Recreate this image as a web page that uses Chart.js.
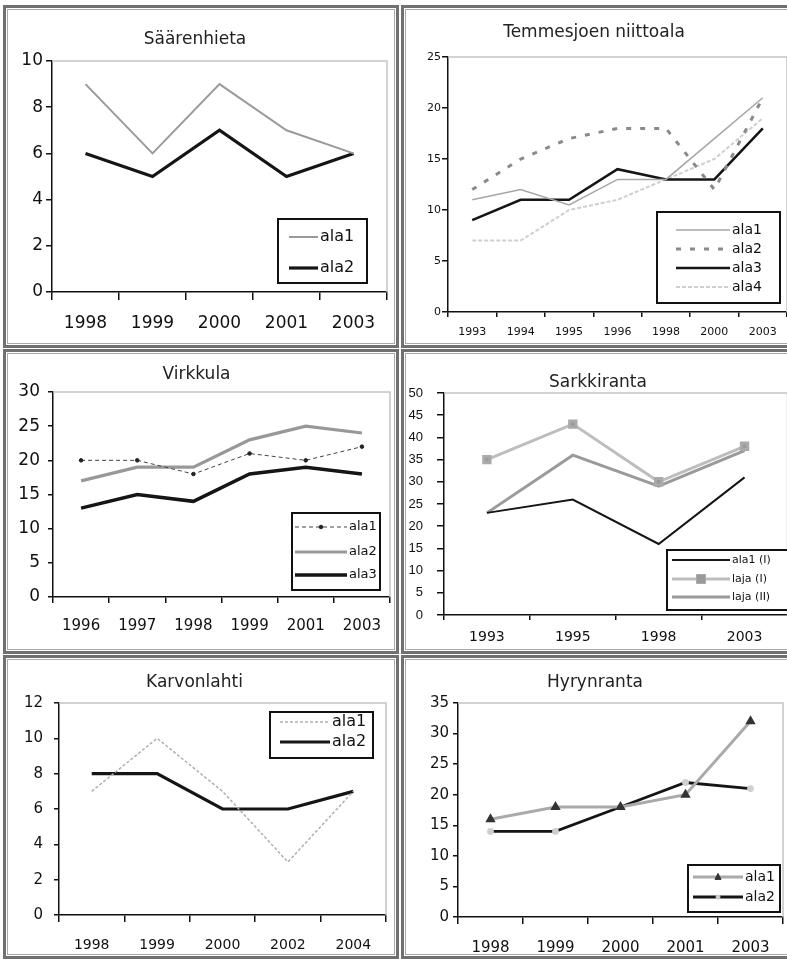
<!DOCTYPE html>
<html>
<head>
<meta charset="utf-8">
<script src="https://cdn.jsdelivr.net/npm/chart.js@4/dist/chart.umd.min.js"></script>
<style>
  html, body { margin:0; padding:0; background:#fff; }
  #page { position:relative; width:787px; height:962px; overflow:hidden; background:#fff; }
  .panel { position:absolute; box-sizing:border-box; border:3px solid #707070;
           box-shadow: inset 0 0 0 1px #fff, inset 0 0 0 2px #a8a8a8; background:#fff; }
  canvas { position:absolute; z-index:2; }
</style>
</head>
<body>
<div id="page">
  <div class="panel" style="left:3px;top:5px;width:396px;height:343px"></div>
  <div class="panel" style="left:401px;top:5px;width:395px;height:343px"></div>
  <div class="panel" style="left:3px;top:349px;width:396px;height:305px"></div>
  <div class="panel" style="left:401px;top:349px;width:395px;height:305px"></div>
  <div class="panel" style="left:3px;top:655px;width:396px;height:304px"></div>
  <div class="panel" style="left:401px;top:655px;width:395px;height:304px"></div>

  <canvas id="c1" width="396" height="342" style="left:3px;top:5px"></canvas>
  <canvas id="c2" width="386" height="342" style="left:401px;top:5px"></canvas>
  <canvas id="c3" width="396" height="304" style="left:3px;top:349px"></canvas>
  <canvas id="c4" width="394" height="304" style="left:401px;top:349px"></canvas>
  <canvas id="c5" width="396" height="303" style="left:3px;top:655px"></canvas>
  <canvas id="c6" width="388" height="303" style="left:401px;top:655px"></canvas>
</div>
<script>
// ---------------- DATA ----------------
const saarenYears = ['1998','1999','2000','2001','2003'];
const saarenAla1  = [9, 6, 9, 7, 6];
const saarenAla2  = [6, 5, 7, 5, 6];

const temmesYears = ['1993','1994','1995','1996','1998','2000','2003'];
const temmesAla1  = [11, 12, 10.5, 13, 13, 17, 21];
const temmesAla2  = [12, 15, 17, 18, 18, 12, 21];
const temmesAla3  = [9, 11, 11, 14, 13, 13, 18];
const temmesAla4  = [7, 7, 10, 11, 13, 15, 19];

const virkYears = ['1996','1997','1998','1999','2001','2003'];
const virkAla1  = [20, 20, 18, 21, 20, 22];
const virkAla2  = [17, 19, 19, 23, 25, 24];
const virkAla3  = [13, 15, 14, 18, 19, 18];

const sarkYears  = ['1993','1995','1998','2003'];
const sarkAla1   = [23, 26, 16, 31];
const sarkLajaI  = [35, 43, 30, 38];
const sarkLajaII = [23, 36, 29, 37];

const karvYears = ['1998','1999','2000','2002','2004'];
const karvAla1  = [7, 10, 7, 3, 7];
const karvAla2  = [8, 8, 6, 6, 7];

const hyrYears = ['1998','1999','2000','2001','2003'];
const hyrAla1  = [16, 18, 18, 20, 32];
const hyrAla2  = [14, 14, 18, 22, 21];

// ---------------- HELPERS ----------------
const FONT = 'DejaVu Sans';
const legendCfg = {};

function drawMarker(ctx, style, x, y, r, fill, stroke) {
  ctx.save();
  ctx.setLineDash([]);
  ctx.fillStyle = fill || '#000';
  ctx.strokeStyle = stroke || fill || '#000';
  ctx.lineWidth = 1;
  ctx.beginPath();
  if (style === 'rect') {
    ctx.rect(x - r, y - r, 2 * r, 2 * r);
  } else if (style === 'triangle') {
    ctx.moveTo(x, y - r * 1.2);
    ctx.lineTo(x + r, y + r * 0.8);
    ctx.lineTo(x - r, y + r * 0.8);
    ctx.closePath();
  } else {
    ctx.arc(x, y, r, 0, Math.PI * 2);
  }
  ctx.fill();
  ctx.stroke();
  ctx.restore();
}

const plotFrame = {
  id: 'plotFrame',
  beforeDatasetsDraw(chart) {
    const a = chart.chartArea, ctx = chart.ctx;
    ctx.save();
    ctx.strokeStyle = '#c4c4c4';
    ctx.lineWidth = 1.5;
    ctx.beginPath();
    ctx.moveTo(a.left, a.top);
    ctx.lineTo(a.right, a.top);
    ctx.lineTo(a.right, a.bottom);
    ctx.stroke();
    ctx.restore();
  }
};

const insetLegend = {
  id: 'insetLegend',
  afterDatasetsDraw(chart) {
    const o = legendCfg[chart.canvas.id];
    if (!o) return;
    const ctx = chart.ctx;
    const [x0, y0, x1, y1] = o.box;
    ctx.save();
    ctx.fillStyle = '#fff';
    ctx.fillRect(x0, y0, x1 - x0, y1 - y0);
    ctx.lineWidth = 2;
    ctx.strokeStyle = '#111';
    ctx.setLineDash([]);
    ctx.strokeRect(x0, y0, x1 - x0, y1 - y0);
    chart.data.datasets.forEach((ds, i) => {
      const y = o.rows[i];
      ctx.strokeStyle = ds.borderColor;
      ctx.lineWidth = ds.borderWidth;
      ctx.setLineDash(ds.borderDash || []);
      ctx.beginPath();
      ctx.moveTo(o.sample[0], y);
      ctx.lineTo(o.sample[1], y);
      ctx.stroke();
      ctx.setLineDash([]);
      if (ds.pointRadius > 0) {
        drawMarker(ctx, ds.pointStyle, (o.sample[0] + o.sample[1]) / 2, y,
                   ds.pointRadius, ds.pointBackgroundColor, ds.pointBorderColor);
      }
      ctx.fillStyle = '#111';
      ctx.font = o.font + 'px "' + FONT + '"';
      ctx.textBaseline = 'middle';
      ctx.textAlign = 'left';
      ctx.fillText(ds.label, o.textX, y);
    });
    ctx.restore();
  }
};

function line(label, data, color, width, extra) {
  return Object.assign({
    label, data,
    borderColor: color, backgroundColor: color,
    borderWidth: width, tension: 0, fill: false,
    pointRadius: 0, pointHoverRadius: 0
  }, extra || {});
}

function build(id, labels, datasets, c) {
  const canvas = document.getElementById(id);
  const W = canvas.width, H = canvas.height;
  const pt = c.titleY - c.titleSize / 2;
  const pb = c.T - pt - c.titleSize;
  return new Chart(canvas, {
    type: 'line',
    data: { labels, datasets },
    options: {
      responsive: false, animation: false, devicePixelRatio: 1,
      events: [],
      layout: { padding: { left: 0, top: 0, bottom: 0, right: W - c.R } },
      plugins: {
        legend: { display: false },
        tooltip: { enabled: false },
        title: {
          display: true, text: c.title, color: '#222',
          font: { family: FONT, size: c.titleSize, weight: 'normal', lineHeight: 1 },
          padding: { top: pt, bottom: pb }
        }
      },
      scales: {
        x: {
          type: 'category', offset: true,
          grid: { offset: true, drawOnChartArea: false, drawTicks: true,
                  tickLength: c.xTL, color: '#111', lineWidth: 1.5 },
          border: { color: '#111', width: 1.5 },
          ticks: { color: '#111', font: { family: FONT, size: c.xFont },
                   padding: c.xPad, maxRotation: 0, autoSkip: false },
          afterFit: s => { s.height = H - c.B; }
        },
        y: {
          min: 0, max: c.yMax,
          grid: { drawOnChartArea: false, drawTicks: true,
                  tickLength: c.yTL, color: '#111', lineWidth: 1.5 },
          border: { color: '#111', width: 1.5 },
          ticks: { stepSize: c.yStep, color: '#111',
                   font: { family: c.yFamily || FONT, size: c.yFont }, padding: c.yPad },
          afterFit: s => { s.width = c.L; }
        }
      }
    },
    plugins: [plotFrame, insetLegend]
  });
}

// ---------------- CHART 1: Säärenhieta ----------------
legendCfg.c1 = { box: [275, 214, 364, 278], rows: [232, 263], sample: [286, 315], textX: 317, font: 16 };
build('c1', saarenYears, [
  line('ala1', saarenAla1, '#9a9a9a', 2),
  line('ala2', saarenAla2, '#151515', 3.2)
], { title: 'Säärenhieta', titleY: 35, titleSize: 17, L: 49, T: 56, R: 384, B: 287,
     xFont: 17, xTL: 8, xPad: 13, yFont: 17, yTL: 6, yPad: 3, yMax: 10, yStep: 2 });

// ---------------- CHART 2: Temmesjoen niittoala ----------------
legendCfg.c2 = { box: [256, 207, 379, 298], rows: [225, 244, 263, 282], sample: [275, 329], textX: 331, font: 14 };
build('c2', temmesYears, [
  line('ala1', temmesAla1, '#a6a6a6', 1.5),
  line('ala2', temmesAla2, '#8a8a8a', 3, { borderDash: [5, 9] }),
  line('ala3', temmesAla3, '#151515', 2.5),
  line('ala4', temmesAla4, '#cfcfcf', 2, { borderDash: [4, 2] })
], { title: 'Temmesjoen niittoala', titleY: 28, titleSize: 17, L: 47, T: 52, R: 386, B: 307,
     xFont: 11, xTL: 5, xPad: 9, yFont: 11, yTL: 6, yPad: 1, yMax: 25, yStep: 5 });

// ---------------- CHART 3: Virkkula ----------------
legendCfg.c3 = { box: [289, 164, 377, 241], rows: [178, 203, 226], sample: [292, 344], textX: 346, font: 13 };
build('c3', virkYears, [
  line('ala1', virkAla1, '#444', 1, { borderDash: [4, 3], pointRadius: 1.8, pointStyle: 'circle',
       pointBackgroundColor: '#222', pointBorderColor: '#222' }),
  line('ala2', virkAla2, '#989898', 3.2),
  line('ala3', virkAla3, '#151515', 3.5)
], { title: 'Virkkula', titleY: 26, titleSize: 17, L: 50, T: 43, R: 387, B: 248,
     xFont: 15, xTL: 6, xPad: 14, yFont: 17, yTL: 5, yPad: 8, yMax: 30, yStep: 5 });

// ---------------- CHART 4: Sarkkiranta ----------------
legendCfg.c4 = { box: [266, 201, 394, 261], rows: [211, 230, 248], sample: [271, 329], textX: 331, font: 11 };
build('c4', sarkYears, [
  line('ala1 (I)', sarkAla1, '#151515', 2),
  line('laja (I)', sarkLajaI, '#bdbdbd', 3, { pointRadius: 4.5, pointStyle: 'rect',
       pointBackgroundColor: '#9a9a9a', pointBorderColor: '#aaaaaa' }),
  line('laja (II)', sarkLajaII, '#9a9a9a', 3)
], { title: 'Sarkkiranta', titleY: 34, titleSize: 17, L: 43, T: 44, R: 394, B: 266,
     xFont: 14, xTL: 5, xPad: 9, yFont: 13, yFamily: 'Liberation Sans', yTL: 7, yPad: 14, yMax: 50, yStep: 5 });

// ---------------- CHART 5: Karvonlahti ----------------
legendCfg.c5 = { box: [267, 57, 370, 103], rows: [67, 87], sample: [277, 327], textX: 329, font: 16 };
build('c5', karvYears, [
  line('ala1', karvAla1, '#b0b0b0', 1.5, { borderDash: [3, 2] }),
  line('ala2', karvAla2, '#151515', 3.2)
], { title: 'Karvonlahti', titleY: 28, titleSize: 17, L: 56, T: 48, R: 383, B: 260,
     xFont: 14, xTL: 7, xPad: 15, yFont: 15, yTL: 5, yPad: 11, yMax: 12, yStep: 2 });

// ---------------- CHART 6: Hyrynranta ----------------
legendCfg.c6 = { box: [287, 210, 379, 257], rows: [222, 242], sample: [292, 342], textX: 344, font: 14 };
build('c6', hyrYears, [
  line('ala1', hyrAla1, '#aaaaaa', 3, { pointRadius: 3, pointStyle: 'triangle',
       pointBackgroundColor: '#333', pointBorderColor: '#333' }),
  line('ala2', hyrAla2, '#151515', 2.8, { pointRadius: 2, pointStyle: 'circle',
       pointBackgroundColor: '#cfcfcf', pointBorderColor: '#cfcfcf' })
], { title: 'Hyrynranta', titleY: 28, titleSize: 17, L: 57, T: 48, R: 388, B: 262,
     xFont: 15, xTL: 7, xPad: 15, yFont: 15, yTL: 5, yPad: 4, yMax: 35, yStep: 5 });
</script>
</body>
</html>
